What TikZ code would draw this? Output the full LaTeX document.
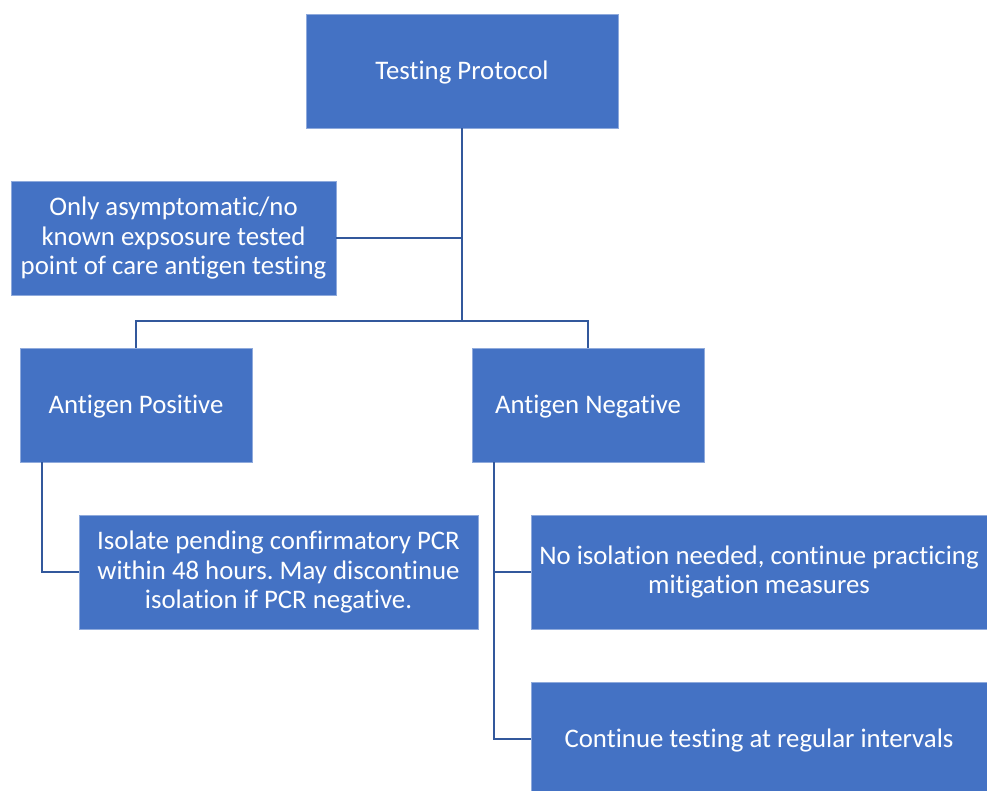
\documentclass[tikz,border=0pt]{standalone}
\usepackage{fontspec}
\setmainfont{Carlito}[Ligatures=CommonOff]
\frenchspacing
\definecolor{boxfill}{RGB}{68,114,196}
\definecolor{boxedge}{RGB}{143,170,220}
\definecolor{linkcol}{RGB}{50,88,156}
\tikzset{
  box/.style={rectangle, fill=boxfill, draw=boxedge, line width=0.8pt, text=white,
    align=center, inner sep=0pt, font=\fontsize{26.8}{29.3}\selectfont\frenchspacing,
    execute at begin node={\rule{0pt}{22.5pt}}},
  link/.style={draw=linkcol, line width=2.2pt}
}
\begin{document}
\begin{tikzpicture}[x=1pt,y=-1pt]
\useasboundingbox (0,0) rectangle (987,790);
\node[box, minimum width=312pt, minimum height=114pt] (tp) at (462,71) {Testing Protocol};
\node[box, minimum width=325pt, minimum height=114pt] (as) at (173.5,238) {Only asymptomatic/no\\known expsosure tested\\point of care antigen testing};
\node[box, minimum width=232pt, minimum height=114pt] (ap) at (136,405) {Antigen Positive};
\node[box, minimum width=232pt, minimum height=114pt] (an) at (588,405) {Antigen Negative};
\node[box, minimum width=399pt, minimum height=114pt] (iso) at (278.5,572) {Isolate pending confirmatory PCR\\within 48 hours. May discontinue\\isolation if PCR negative.};
\node[box, minimum width=456pt, minimum height=114pt] (noi) at (759,572) {No isolation needed, continue practicing\\mitigation measures};
\node[box, minimum width=456pt, minimum height=114pt] (ct) at (759,739) {Continue testing at regular intervals};
\coordinate (j) at (462,321);
\draw[link] (tp.south) -- (j);
\draw[link] (as.east) -- (as.east -| tp.south);
\draw[link] (ap.north) |- (j) -| (an.north);
\draw[link] ([xshift=22pt]ap.south west) |- (iso.west);
\draw[link] ([xshift=22pt]an.south west) |- (noi.west);
\draw[link] ([xshift=22pt]an.south west) |- (ct.west);
\end{tikzpicture}
\end{document}
